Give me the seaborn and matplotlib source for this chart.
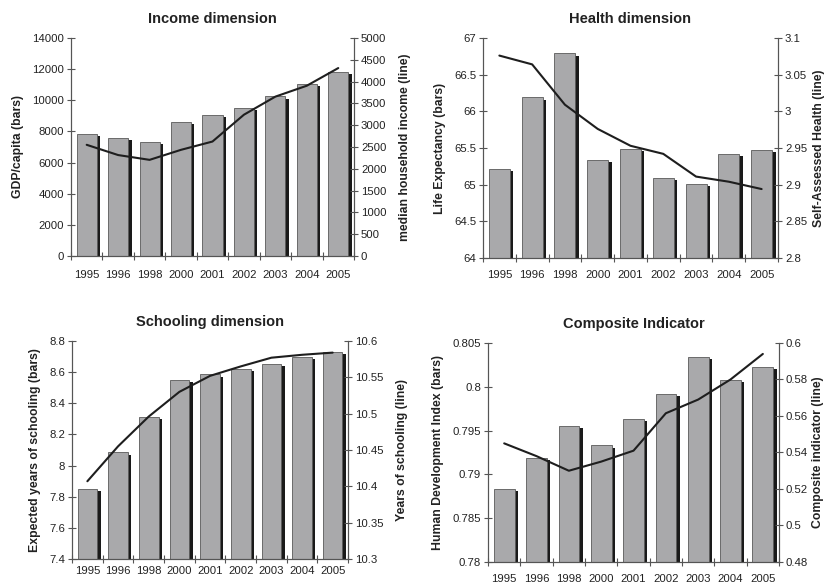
import matplotlib
matplotlib.use("Agg")
import matplotlib.pyplot as plt
import matplotlib.transforms as mtransforms
import seaborn as sns
import numpy as np
import pandas as pd

sns.set_style("white")
plt.rcParams['font.family'] = ['Liberation Sans', 'DejaVu Sans']

years = ['1995', '1996', '1998', '2000', '2001', '2002', '2003', '2004', '2005']

# income dimension
gdp_capita = [7850, 7600, 7350, 8600, 9080, 9520, 10250, 11050, 11800]
median_income = [2550, 2315, 2205, 2435, 2625, 3240, 3655, 3905, 4310]

# health dimension
life_expectancy = [65.22, 66.19, 66.79, 65.34, 65.49, 65.09, 65.01, 65.42, 65.47]
self_health = [3.076, 3.064, 3.009, 2.976, 2.953, 2.942, 2.911, 2.904, 2.894]

# schooling dimension
expected_school = [7.85, 8.085, 8.31, 8.55, 8.585, 8.62, 8.655, 8.70, 8.73]
years_school = [10.407, 10.455, 10.496, 10.530, 10.552, 10.565, 10.577, 10.581, 10.584]

# composite
hdi = [0.7883, 0.7919, 0.7955, 0.7933, 0.7963, 0.7992, 0.8034, 0.8008, 0.8023]
composite = [0.545, 0.538, 0.530, 0.535, 0.541, 0.5615, 0.569, 0.580, 0.594]

BAR = '#a9a9ab'
EDGE = '#5a5a5a'
SPINE = '#555555'
TXT = '#222222'


def panel(fig, rect, title, bars, line, ylim, yticks, ylim2, yticks2, ylab, ylab2,
          xpad=9, rpad=9):
    ax = fig.add_axes(rect)
    df = pd.DataFrame({'year': years, 'bar': bars})
    # shadow bars first, shifted a few pixels right/down
    sns.barplot(data=df, x='year', y='bar', color='#1a1a1a', width=0.64,
                saturation=1, ax=ax, errorbar=None)
    n_sh = len(ax.patches)
    shift = mtransforms.ScaledTranslation(3.4 / 100, -2.2 / 100, fig.dpi_scale_trans)
    for p in ax.patches[:n_sh]:
        p.set_transform(ax.transData + shift)
        p.set_linewidth(0)
    sns.barplot(data=df, x='year', y='bar', color=BAR, width=0.64,
                saturation=1, ax=ax, errorbar=None, edgecolor=EDGE, linewidth=0.6)
    for p in ax.patches[n_sh:]:
        p.set_facecolor(BAR)
    ax.set_ylim(*ylim)
    ax.set_yticks(yticks)
    ax.set_yticklabels([f'{t:g}' for t in yticks])
    ax.set_xlim(-0.5, len(years) - 0.5)
    ax.set_xticks(np.arange(len(years)))
    ax.set_xticklabels(years)
    ax.set_xticks(np.arange(len(years) + 1) - 0.5, minor=True)
    ax.tick_params(axis='x', which='major', length=0, pad=xpad, labelsize=8.2, colors=TXT)
    ax.tick_params(axis='x', which='minor', direction='inout', length=6, width=0.8, color=SPINE, bottom=True)
    ax.tick_params(axis='y', direction='inout', length=6, width=0.8, color=SPINE,
                   labelsize=8.2, labelcolor=TXT, left=True, pad=2)
    ax.set_xlabel('')
    ax.set_ylabel(ylab, fontsize=8.8, fontweight='bold', color=TXT, labelpad=6)
    ax.set_title(title, fontsize=10.5, fontweight='bold', color=TXT, pad=11)

    ax2 = ax.twinx()
    sns.lineplot(x=np.arange(len(years)), y=line, color='#1e1e1e', linewidth=1.5, ax=ax2)
    ax2.set_ylim(*ylim2)
    ax2.set_yticks(yticks2)
    ax2.set_yticklabels([f'{t:g}' for t in yticks2])
    ax2.tick_params(axis='y', direction='inout', length=6, width=0.8, color=SPINE,
                    labelsize=8.2, labelcolor=TXT, right=True, pad=2)
    ax2.set_ylabel(ylab2, fontsize=8.8, fontweight='bold', color=TXT, labelpad=rpad)

    for a in (ax, ax2):
        a.spines['top'].set_visible(False)
        for s in ('left', 'right', 'bottom'):
            a.spines[s].set_color(SPINE)
            a.spines[s].set_linewidth(0.8)
    return ax, ax2


fig = plt.figure(figsize=(8.29, 5.87), dpi=100)

panel(fig, [0.0856, 0.5639, 0.3414, 0.3714], 'Income dimension',
      gdp_capita, median_income, (0, 14000), np.arange(0, 14001, 2000),
      (0, 5000), np.arange(0, 5001, 500),
      'GDP/capita (bars)', 'median household income (line)', xpad=10)

panel(fig, [0.5826, 0.5605, 0.3559, 0.3748], 'Health dimension',
      life_expectancy, self_health, (64, 67), [64, 64.5, 65, 65.5, 66, 66.5, 67],
      (2.8, 3.1), [2.8, 2.85, 2.9, 2.95, 3.0, 3.05, 3.1],
      'Life Expectancy (bars)', 'Self-Assessed Health (line)', xpad=9, rpad=4)

panel(fig, [0.0869, 0.0477, 0.3329, 0.3714], 'Schooling dimension',
      expected_school, years_school, (7.4, 8.8), [7.4, 7.6, 7.8, 8.0, 8.2, 8.4, 8.6, 8.8],
      (10.3, 10.6), [10.3, 10.35, 10.4, 10.45, 10.5, 10.55, 10.6],
      'Expected years of schooling (bars)', 'Years of schooling (line)', xpad=5)

panel(fig, [0.5887, 0.0426, 0.351, 0.3731], 'Composite Indicator',
      hdi, composite, (0.78, 0.805), [0.78, 0.785, 0.79, 0.795, 0.8, 0.805],
      (0.48, 0.6), [0.48, 0.5, 0.52, 0.54, 0.56, 0.58, 0.6],
      'Human Development Index (bars)', 'Composite indicator (line)', xpad=9, rpad=3)

fig.savefig('out.png', dpi=100, facecolor='white')
